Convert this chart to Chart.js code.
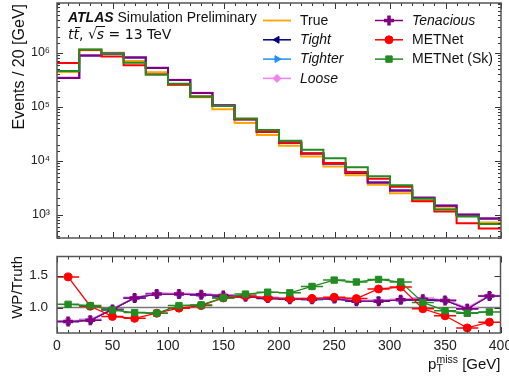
<!DOCTYPE html>
<html>
<head>
<meta charset="utf-8">
<script src="https://cdn.jsdelivr.net/npm/chart.js@4.4.0/dist/chart.umd.min.js"></script>
<style>
html, body { margin: 0; padding: 0; background: #fff; }
#wrap { position: relative; width: 509px; height: 383px; }
#topchart { position: absolute; left: 0; top: 0; }
#ratiochart { position: absolute; left: 0; top: 248px; }
</style>
</head>
<body>
<div id="wrap">
<canvas id="topchart" width="509" height="246"></canvas>
<canvas id="ratiochart" width="509" height="135"></canvas>
</div>
<script>
// 20 GeV bins, 0-400 GeV
const binEdges = [0, 20, 40, 60, 80, 100, 120, 140, 160, 180, 200, 220, 240, 260, 280, 300, 320, 340, 360, 380, 400];
const binCentres = [10, 30, 50, 70, 90, 110, 130, 150, 170, 190, 210, 230, 250, 270, 290, 310, 330, 350, 370, 390];

// events per bin (top panel)
const histTrue = [4.4e5, 1.12e6, 1.0e6, 7.1e5, 4.35e5, 2.6e5, 1.5e5, 9.0e4, 5.0e4, 3.0e4, 1.9e4, 1.2e4, 7.8e3, 5.4e3, 3.6e3, 2.5e3, 1.82e3, 1.32e3, 1.02e3, 720];
const histTight = [3.43e5, 8.96e5, 9.7e5, 8.17e5, 5.26e5, 3.15e5, 1.8e5, 1.06e5, 5.85e4, 3.42e4, 2.15e4, 1.36e4, 8.8e3, 5.94e3, 3.96e3, 2.8e3, 2.04e3, 1.47e3, 1.0e3, 850];
const histTighter = [3.43e5, 9.07e5, 9.7e5, 8.17e5, 5.31e5, 3.15e5, 1.8e5, 1.07e5, 5.85e4, 3.45e4, 2.15e4, 1.34e4, 8.9e3, 5.94e3, 4.0e3, 2.8e3, 2.06e3, 1.48e3, 1.01e3, 850];
const histLoose = [3.48e5, 9.07e5, 9.8e5, 8.24e5, 5.31e5, 3.17e5, 1.82e5, 1.08e5, 5.9e4, 3.48e4, 2.17e4, 1.37e4, 8.97e3, 6.0e3, 4.0e3, 2.83e3, 2.09e3, 1.48e3, 1.02e3, 857];
const histTenacious = [3.43e5, 8.96e5, 9.7e5, 8.17e5, 5.26e5, 3.15e5, 1.8e5, 1.07e5, 5.85e4, 3.45e4, 2.15e4, 1.36e4, 8.9e3, 5.94e3, 3.96e3, 2.8e3, 2.06e3, 1.47e3, 1.0e3, 850];
const histMETNet = [6.5e5, 1.14e6, 8.6e5, 5.9e5, 3.96e5, 2.57e5, 1.55e5, 1.035e5, 5.9e4, 3.45e4, 2.17e4, 1.37e4, 9.05e3, 6.16e3, 4.64e3, 3.3e3, 1.78e3, 1.15e3, 694, 554];
const histMETNetSk = [4.62e5, 1.154e6, 9.6e5, 6.53e5, 3.96e5, 2.68e5, 1.56e5, 1.035e5, 6.05e4, 3.72e4, 2.34e4, 1.6e4, 1.115e4, 7.56e3, 5.18e3, 3.5e3, 1.97e3, 1.25e3, 928, 670];

// WP / Truth (bottom panel)
const ratioTight = [0.78, 0.80, 0.97, 1.15, 1.21, 1.21, 1.20, 1.18, 1.17, 1.14, 1.13, 1.13, 1.13, 1.10, 1.10, 1.12, 1.12, 1.11, 0.98, 1.18];
const ratioTighter = [0.78, 0.81, 0.97, 1.15, 1.22, 1.21, 1.20, 1.19, 1.17, 1.15, 1.13, 1.12, 1.14, 1.10, 1.11, 1.12, 1.13, 1.12, 0.99, 1.18];
const ratioLoose = [0.79, 0.81, 0.98, 1.16, 1.22, 1.22, 1.21, 1.20, 1.18, 1.16, 1.14, 1.14, 1.15, 1.11, 1.11, 1.13, 1.15, 1.12, 1.00, 1.19];
const ratioTenacious = [0.78, 0.80, 0.97, 1.15, 1.21, 1.21, 1.20, 1.19, 1.17, 1.15, 1.13, 1.13, 1.14, 1.10, 1.10, 1.12, 1.13, 1.11, 0.98, 1.18];
const ratioMETNet = [1.48, 1.02, 0.86, 0.83, 0.91, 0.99, 1.03, 1.15, 1.18, 1.15, 1.14, 1.14, 1.16, 1.14, 1.29, 1.32, 0.98, 0.87, 0.68, 0.77];
const ratioMETNetSk = [1.05, 1.03, 0.96, 0.92, 0.91, 1.03, 1.04, 1.15, 1.21, 1.24, 1.23, 1.33, 1.43, 1.40, 1.44, 1.40, 1.08, 0.95, 0.91, 0.93];

const FONT = '"Liberation Sans", "DejaVu Sans", sans-serif';
Chart.defaults.font.family = FONT;
Chart.defaults.color = '#222';

const sup = { '0': '⁰', '1': '¹', '2': '²', '3': '³', '4': '⁴', '5': '⁵', '6': '⁶', '7': '⁷', '8': '⁸', '9': '⁹' };

// series styles: colour, marker, marker rotation, italic label
const series = [
    { label: 'True', color: 'orange', hist: histTrue },
    { label: 'Tight', color: 'navy', hist: histTight, ratio: ratioTight, marker: 'triangle', rot: -90, italic: true },
    { label: 'Tighter', color: 'dodgerblue', hist: histTighter, ratio: ratioTighter, marker: 'triangle', rot: 90, italic: true },
    { label: 'Loose', color: 'violet', hist: histLoose, ratio: ratioLoose, marker: 'rectRot', rot: 0, italic: true },
    { label: 'Tenacious', color: 'purple', hist: histTenacious, ratio: ratioTenacious, marker: 'cross', rot: 0, italic: true },
    { label: 'METNet', color: 'red', hist: histMETNet, ratio: ratioMETNet, marker: 'circle', rot: 0 },
    { label: 'METNet (Sk)', color: 'forestgreen', hist: histMETNetSk, ratio: ratioMETNetSk, marker: 'rect', rot: 0 }
];

function stepPoints(vals) {
    let pts = vals.map((v, i) => ({ x: binEdges[i], y: v }));
    pts.push({ x: binEdges[binEdges.length - 1], y: vals[vals.length - 1] });
    return pts;
}

function markerOpts(s) {
    return {
        pointStyle: s.marker,
        radius: s.marker === 'cross' ? 5 : (s.marker === 'rect' ? 4.5 : 4),
        rotation: s.rot,
        borderWidth: s.marker === 'cross' ? 3.5 : 1
    };
}

function seg(ctx, x1, y1, x2, y2) {
    ctx.beginPath();
    ctx.moveTo(x1, y1);
    ctx.lineTo(x2, y2);
    ctx.stroke();
}

// inward ticks on all four sides + frame
function insideTicks(isMajorY) {
    return {
        id: 'insideTicks',
        afterDatasetsDraw(chart) {
            const ctx = chart.ctx, a = chart.chartArea, sx = chart.scales.x, sy = chart.scales.y;
            ctx.save();
            ctx.strokeStyle = '#333';
            ctx.lineWidth = 1;
            sx.ticks.forEach(t => {
                const px = Math.round(sx.getPixelForValue(t.value)) + 0.5;
                const len = t.value % 50 === 0 ? 6 : 3;
                seg(ctx, px, a.bottom, px, a.bottom - len);
                seg(ctx, px, a.top, px, a.top + len);
            });
            sy.ticks.forEach(t => {
                if (t.value < sy.min || t.value > sy.max) return;
                const py = Math.round(sy.getPixelForValue(t.value)) + 0.5;
                const len = isMajorY(t.value) ? 6 : 3;
                seg(ctx, a.left, py, a.left + len, py);
                seg(ctx, a.right, py, a.right - len, py);
            });
            ctx.strokeStyle = '#555';
            ctx.lineWidth = 1.5;
            ctx.strokeRect(a.left, a.top, a.right - a.left, a.bottom - a.top);
            ctx.restore();
        }
    };
}

function drawRun(ctx, x, y, parts) {
    parts.forEach(p => {
        ctx.font = p.font;
        ctx.fillText(p.text, x + (p.dx || 0), y + (p.dy || 0));
        x += ctx.measureText(p.text).width + (p.dx || 0);
    });
    return x;
}

const topText = {
    id: 'topText',
    afterDraw(chart) {
        const ctx = chart.ctx;
        ctx.save();
        ctx.fillStyle = '#111';
        ctx.textBaseline = 'alphabetic';
        // ATLAS label
        let x = drawRun(ctx, 68, 22, [
            { text: 'ATLAS', font: 'italic bold 14px ' + FONT },
            { text: ' Simulation Preliminary', font: '14px ' + FONT }
        ]);
        // process line
        ctx.font = 'oblique 14px "DejaVu Sans"';
        let x0 = 68;
        ctx.fillText('tt', x0, 39);
        const wt = ctx.measureText('t').width;
        ctx.strokeStyle = '#111';
        ctx.lineWidth = 1;
        seg(ctx, x0 + wt + 1.5, 27.5, x0 + 2 * wt + 1.5, 27.5);
        x = x0 + ctx.measureText('tt').width;
        x = drawRun(ctx, x, 39, [{ text: ', ', font: '14px "DejaVu Sans"' }, { text: '√', font: '14px "DejaVu Sans"' }]);
        ctx.font = 'oblique 14px "DejaVu Sans"';
        const ws = ctx.measureText('s').width;
        seg(ctx, x - 1, 26.5, x + ws + 1, 26.5);
        drawRun(ctx, x, 39, [
            { text: 's', font: 'oblique 14px "DejaVu Sans"' },
            { text: ' = 13 TeV', font: '14px "DejaVu Sans"' }
        ]);

        // legend
        const cols = [{ lx: 263, tx: 300, items: series.slice(0, 4) }, { lx: 375, tx: 412, items: series.slice(4) }];
        cols.forEach(c => {
            c.items.forEach((s, i) => {
                const y = 20.5 + i * 19.3;
                ctx.strokeStyle = s.color;
                ctx.fillStyle = s.color;
                ctx.lineWidth = s.marker ? 1.5 : 1.8;
                seg(ctx, c.lx, y, c.lx + 28, y);
                if (s.marker) {
                    ctx.lineWidth = markerOpts(s).borderWidth;
                    Chart.helpers.drawPoint(ctx, markerOpts(s), c.lx + 14, y);
                }
                ctx.fillStyle = '#111';
                ctx.textBaseline = 'middle';
                ctx.font = (s.italic ? 'italic ' : '') + '14px ' + FONT;
                ctx.fillText(s.label, c.tx, y + 0.5);
            });
        });

        // y title
        ctx.translate(20, 4);
        ctx.rotate(-Math.PI / 2);
        ctx.textAlign = 'right';
        ctx.textBaseline = 'middle';
        ctx.font = '16px ' + FONT;
        ctx.fillText('Events / 20 [GeV]', 0, 0);
        ctx.restore();
    }
};

const ratioExtras = {
    id: 'ratioExtras',
    beforeDatasetsDraw(chart) {
        const ctx = chart.ctx, a = chart.chartArea, sx = chart.scales.x, sy = chart.scales.y;
        ctx.save();
        ctx.beginPath();
        ctx.rect(a.left, a.top, a.right - a.left, a.bottom - a.top);
        ctx.clip();
        ctx.strokeStyle = '#777';
        ctx.lineWidth = 1.5;
        const py = sy.getPixelForValue(1.0);
        seg(ctx, a.left, py, a.right, py);
        // horizontal bin-width bars
        for (let d = chart.data.datasets.length - 1; d >= 0; d--) {
            const ds = chart.data.datasets[d];
            ctx.strokeStyle = ds.borderColor;
            ctx.lineWidth = 1.5;
            ds.data.forEach(p => {
                const y = sy.getPixelForValue(p.y);
                seg(ctx, sx.getPixelForValue(p.x - 10), y, sx.getPixelForValue(p.x + 10), y);
            });
        }
        ctx.restore();
    },
    afterDraw(chart) {
        const ctx = chart.ctx;
        ctx.save();
        ctx.fillStyle = '#111';
        ctx.textBaseline = 'alphabetic';
        // x title, right aligned at the axis end
        const parts = [
            { text: 'p', font: '15px ' + FONT },
            { text: 'miss', font: '10.5px ' + FONT, dy: -6 },
            { text: ' [GeV]', font: '15px ' + FONT }
        ];
        let w = 0;
        parts.forEach(p => { ctx.font = p.font; w += ctx.measureText(p.text).width; });
        let x = chart.chartArea.right - w;
        const y0 = 121;
        ctx.font = '15px ' + FONT;
        const wp = ctx.measureText('p').width;
        ctx.font = '10.5px ' + FONT;
        ctx.fillText('T', x + wp, y0 + 3);
        drawRun(ctx, x, y0, parts);
        // y title
        ctx.translate(18, 8);
        ctx.rotate(-Math.PI / 2);
        ctx.textAlign = 'right';
        ctx.textBaseline = 'middle';
        ctx.font = '15px ' + FONT;
        ctx.fillText('WP/Truth', 0, 0);
        ctx.restore();
    }
};

// top panel: histograms, green on top
const histSets = series.slice().reverse().map((s, i) => ({
    label: s.label,
    data: stepPoints(s.hist),
    borderColor: s.color,
    borderWidth: 2,
    stepped: 'before',
    pointRadius: 0,
    fill: false,
    order: i
}));

new Chart(document.getElementById('topchart'), {
    type: 'line',
    data: { datasets: histSets },
    options: {
        responsive: false,
        animation: false,
        layout: { padding: { top: 3, right: 8, bottom: 0, left: 0 } },
        plugins: { legend: { display: false }, tooltip: { enabled: false } },
        scales: {
            x: {
                type: 'linear', min: 0, max: 400,
                ticks: { stepSize: 10, display: false },
                grid: { display: false, drawTicks: false },
                border: { display: false },
                afterFit: s => { s.height = 8; s.paddingLeft = 0; s.paddingRight = 0; }
            },
            y: {
                type: 'logarithmic', min: 370, max: 8.4e6,
                ticks: {
                    autoSkip: false,
                    padding: 7,
                    font: { size: 12.5 },
                    callback: v => {
                        const e = Math.log10(v);
                        if (Math.abs(e - Math.round(e)) > 1e-6) return '';
                        return '10' + String(Math.round(e)).split('').map(c => sup[c]).join('');
                    }
                },
                grid: { display: false, drawTicks: false },
                border: { display: false },
                afterFit: s => { s.width = 57; s.paddingTop = 0; s.paddingBottom = 0; }
            }
        }
    },
    plugins: [insideTicks(v => Math.abs(Math.log10(v) - Math.round(Math.log10(v))) < 1e-6), topText]
});

// bottom panel: ratios with markers
const ratioSeries = series.filter(s => s.ratio);
const ratioSets = ratioSeries.slice().reverse().map((s, i) => ({
    label: s.label,
    data: s.ratio.map((r, k) => ({ x: binCentres[k], y: r })),
    borderColor: s.color,
    backgroundColor: s.color,
    borderWidth: 1.3,
    pointStyle: s.marker,
    pointRotation: s.rot,
    pointRadius: markerOpts(s).radius,
    pointBorderWidth: markerOpts(s).borderWidth,
    fill: false,
    order: i
}));

new Chart(document.getElementById('ratiochart'), {
    type: 'line',
    data: { datasets: ratioSets },
    options: {
        responsive: false,
        animation: false,
        layout: { padding: { top: 6, right: 8, bottom: 0, left: 0 } },
        plugins: { legend: { display: false }, tooltip: { enabled: false } },
        scales: {
            x: {
                type: 'linear', min: 0, max: 400,
                ticks: {
                    stepSize: 10, autoSkip: false, maxRotation: 0, padding: 5,
                    font: { size: 14 },
                    callback: v => (v % 50 === 0 ? String(v) : '')
                },
                grid: { display: false, drawTicks: false },
                border: { display: false },
                afterFit: s => { s.height = 50; s.paddingLeft = 0; s.paddingRight = 0; }
            },
            y: {
                type: 'linear', min: 0.6, max: 1.8,
                ticks: {
                    stepSize: 0.5, includeBounds: false, padding: 9,
                    font: { size: 13.5 },
                    callback: v => v.toFixed(1)
                },
                grid: { display: false, drawTicks: false },
                border: { display: false },
                afterFit: s => { s.width = 57; s.paddingTop = 0; s.paddingBottom = 0; }
            }
        }
    },
    plugins: [insideTicks(v => true), ratioExtras]
});
</script>
</body>
</html>
